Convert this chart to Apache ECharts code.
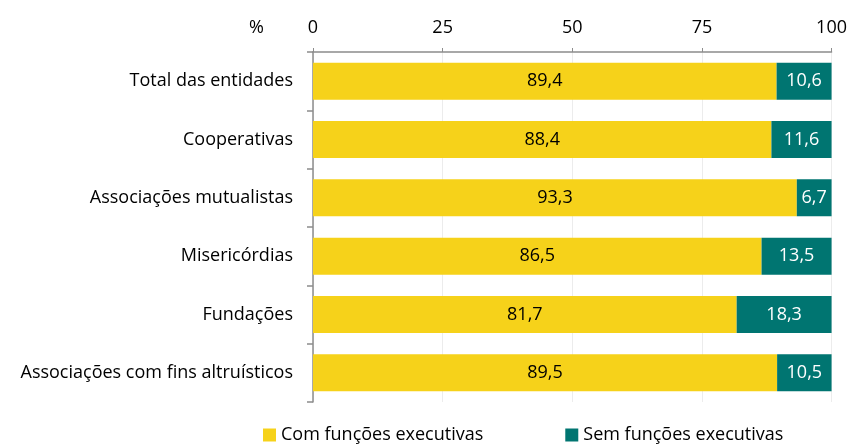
<!DOCTYPE html>
<html>
<head>
<meta charset="utf-8">
<script src="https://cdn.jsdelivr.net/npm/echarts@6/dist/echarts.min.js"></script>
<style>
  html, body { margin: 0; padding: 0; background: #fff; }
  #chart { width: 850px; height: 448px; }
</style>
</head>
<body>
<div id="chart"></div>
<script>
const categories = [
  'Total das entidades',
  'Cooperativas',
  'Associações mutualistas',
  'Misericórdias',
  'Fundações',
  'Associações com fins altruísticos'
]
const comFuncoes = [89.4, 88.4, 93.3, 86.5, 81.7, 89.5]
const semFuncoes = [10.6, 11.6, 6.7, 13.5, 18.3, 10.5]
const xTicks = [0, 25, 50, 75, 100]

const fontFamily = '"Open Sans", "Noto Sans", sans-serif'
const fmt = (v) => v.toFixed(1).replace('.', ',')

const myChart = echarts.init(document.getElementById('chart'))
myChart.setOption({
  animation: false,
  textStyle: { fontFamily },
  grid: {
    left: 313,
    right: 16,
    top: 52,
    bottom: 46,
  },
  title: {
    text: '%',
    left: 244,
    top: 14,
    textStyle: { fontSize: 18, fontWeight: 'normal', color: '#000', fontFamily },
  },
  legend: {
    bottom: -1,
    left: 258,
    itemGap: 82,
    itemWidth: 13,
    itemHeight: 13,
    icon: 'rect',
    textStyle: { fontSize: 18, color: '#000', fontFamily },
    data: ['Com funções executivas', 'Sem funções executivas'],
  },
  xAxis: {
    type: 'value',
    position: 'top',
    min: xTicks[0],
    max: xTicks[xTicks.length - 1],
    interval: 25,
    axisLine: { show: true, lineStyle: { color: '#8c8c8c', width: 1.5 } },
    axisTick: { show: true, inside: false, length: 4, lineStyle: { color: '#8c8c8c' } },
    axisLabel: { fontSize: 18, color: '#000', margin: 15 },
    splitLine: { show: true, lineStyle: { color: '#ececec', width: 1 } },
  },
  yAxis: {
    type: 'category',
    inverse: true,
    data: categories,
    axisLine: { show: true, lineStyle: { color: '#8c8c8c', width: 1.5 } },
    axisTick: { show: true, length: 6, lineStyle: { color: '#8c8c8c', width: 1.5 } },
    axisLabel: { fontSize: 18, color: '#000', margin: 20 },
  },
  series: [
    {
      name: 'Com funções executivas',
      type: 'bar',
      stack: 'total',
      barWidth: 37,
      itemStyle: { color: '#F6D21A' },
      label: {
        show: true,
        position: 'inside',
        color: '#000',
        fontSize: 18,
        formatter: (p) => fmt(p.value),
      },
      data: comFuncoes,
    },
    {
      name: 'Sem funções executivas',
      type: 'bar',
      stack: 'total',
      barWidth: 37,
      itemStyle: { color: '#007571' },
      label: {
        show: true,
        position: 'inside',
        color: '#fff',
        fontSize: 18,
        formatter: (p) => fmt(p.value),
      },
      data: semFuncoes,
    },
  ],
})
</script>
</body>
</html>
